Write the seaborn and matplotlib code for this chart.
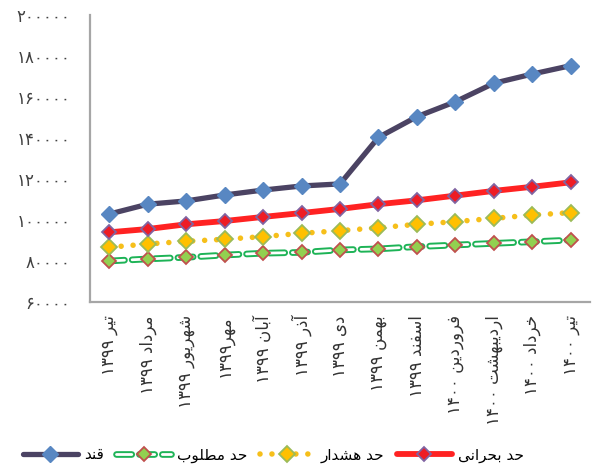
import matplotlib
matplotlib.use("Agg")
import matplotlib.pyplot as plt
import matplotlib.legend_handler
import seaborn as sns
import pandas as pd

# ---------------- data ----------------
months = ["تیر ۱۳۹۹", "مرداد ۱۳۹۹", "شهریور ۱۳۹۹", "مهر۱۳۹۹", "آبان ۱۳۹۹", "آذر ۱۳۹۹",
          "دی ۱۳۹۹", "بهمن ۱۳۹۹", "اسفند ۱۳۹۹", "فروردین ۱۴۰۰", "اردیبهشت ۱۴۰۰",
          "خرداد ۱۴۰۰", "تیر ۱۴۰۰"]
qand = [102900, 107700, 109300, 112200, 114600, 116600, 117600,
        140300, 150400, 157700, 166700, 171200, 175300]
critical = [94000, 95600, 97900, 99500, 101500, 103400, 105400,
            107700, 109600, 111900, 114200, 116200, 118400]
warning = [86700, 88300, 89600, 90600, 91900, 93500, 94800,
           96200, 97900, 99200, 100800, 102400, 103600]
desired = [80000, 81000, 81800, 82900, 83800, 84200, 85400,
           85900, 87000, 87800, 88600, 89400, 90200]
series_labels = ["قند", "حد مطلوب", "حد هشدار", "حد بحرانی"]
yticks = [60000, 80000, 100000, 120000, 140000, 160000, 180000, 200000]

# ---------------- minimal Persian shaping ----------------
FORMS = {  # iso, fin, ini, med
    "ا": ("\uFE8D", "\uFE8E", None, None),
    "آ": ("\uFE81", "\uFE82", None, None),
    "ب": ("\uFE8F", "\uFE90", "\uFE91", "\uFE92"),
    "ت": ("\uFE95", "\uFE96", "\uFE97", "\uFE98"),
    "ح": ("\uFEA1", "\uFEA2", "\uFEA3", "\uFEA4"),
    "خ": ("\uFEA5", "\uFEA6", "\uFEA7", "\uFEA8"),
    "د": ("\uFEA9", "\uFEAA", None, None),
    "ذ": ("\uFEAB", "\uFEAC", None, None),
    "ر": ("\uFEAD", "\uFEAE", None, None),
    "س": ("\uFEB1", "\uFEB2", "\uFEB3", "\uFEB4"),
    "ش": ("\uFEB5", "\uFEB6", "\uFEB7", "\uFEB8"),
    "ط": ("\uFEC1", "\uFEC2", "\uFEC3", "\uFEC4"),
    "ف": ("\uFED1", "\uFED2", "\uFED3", "\uFED4"),
    "ق": ("\uFED5", "\uFED6", "\uFED7", "\uFED8"),
    "ل": ("\uFEDD", "\uFEDE", "\uFEDF", "\uFEE0"),
    "م": ("\uFEE1", "\uFEE2", "\uFEE3", "\uFEE4"),
    "ن": ("\uFEE5", "\uFEE6", "\uFEE7", "\uFEE8"),
    "ه": ("\uFEE9", "\uFEEA", "\uFEEB", "\uFEEC"),
    "و": ("\uFEED", "\uFEEE", None, None),
    "ی": ("\uFEEF", "\uFEF0", "\uFEF3", "\uFEF4"),
}


def shape(word):
    out = []
    n = len(word)
    for i, c in enumerate(word):
        if c not in FORMS:
            out.append(c)
            continue
        iso, fin, ini, med = FORMS[c]
        prev = word[i - 1] if i > 0 else ""
        nxt = word[i + 1] if i < n - 1 else ""
        jp = prev in FORMS and FORMS[prev][2] is not None
        jn = ini is not None and nxt in FORMS
        if jp and jn:
            out.append(med)
        elif jp:
            out.append(fin)
        elif jn:
            out.append(ini)
        else:
            out.append(iso)
    return "".join(out)


def visual(text):
    shaped = shape(text)
    runs, cur, cur_digit = [], "", None
    for ch in shaped:
        d = ch.isdigit()
        if cur and d != cur_digit and not (ch == " " and not cur_digit):
            runs.append((cur, cur_digit))
            cur = ""
        if not cur:
            cur_digit = d
        cur += ch
    if cur:
        runs.append((cur, cur_digit))
    res = []
    for r, isd in reversed(runs):
        res.append(r if isd else r[::-1])
    return "".join(res)


PDIG = str.maketrans("0123456789", "۰۱۲۳۴۵۶۷۸۹")

# ---------------- figure ----------------
plt.rcParams["font.family"] = ["DejaVu Sans"]
plt.rcParams["lines.scale_dashes"] = False

fig = plt.figure(figsize=(5.94, 4.72), dpi=100)
ax = fig.add_axes([90 / 594, 1 - 302 / 472, 500 / 594, 287 / 472])

df = pd.DataFrame({"x": range(len(months)), "qand": qand, "critical": critical,
                   "warning": warning, "desired": desired})

# desired (green hollow dashes)
dash = (0, (11, 5.5))
sns.lineplot(data=df, x="x", y="desired", ax=ax, errorbar=None,
             color="#1db356", linewidth=4.8, zorder=2)
g1 = ax.lines[-1]
g1.set_linestyle(dash)
g1.set_dash_capstyle("round")
sns.lineplot(data=df, x="x", y="desired", ax=ax, errorbar=None,
             color="white", linewidth=2.0, zorder=2.1)
g2 = ax.lines[-1]
g2.set_linestyle(dash)
g2.set_dash_capstyle("round")
sns.lineplot(data=df, x="x", y="desired", ax=ax, errorbar=None,
             color="#92d050", linestyle="none", marker="D", markersize=7.5,
             markerfacecolor="#92d050", markeredgecolor="#c0504d",
             markeredgewidth=1.3, zorder=2.2)
g3 = ax.lines[-1]

# warning (yellow dots)
sns.lineplot(data=df, x="x", y="warning", ax=ax, errorbar=None,
             color="#f6bf1a", linewidth=4.0, marker="D", markersize=8,
             markerfacecolor="#ffc000", markeredgecolor="#9bbb59",
             markeredgewidth=1.3, zorder=3)
y1 = ax.lines[-1]
y1.set_linestyle((0, (0.01, 8.6)))
y1.set_dash_capstyle("round")

# critical (red)
sns.lineplot(data=df, x="x", y="critical", ax=ax, errorbar=None,
             color="#ff2222", linewidth=4.2, marker="D", markersize=7.5,
             markerfacecolor="#ee1c25", markeredgecolor="#8064a2",
             markeredgewidth=1.3, zorder=4)
r1 = ax.lines[-1]
r1.set_solid_capstyle("round")

# qand (dark line, blue diamonds)
sns.lineplot(data=df, x="x", y="qand", ax=ax, errorbar=None,
             color="#4b4363", linewidth=3.8, marker="D", markersize=8,
             markerfacecolor="#5887c2", markeredgecolor="#5887c2",
             markeredgewidth=1, zorder=5)
b1 = ax.lines[-1]
b1.set_solid_capstyle("round")

ax.set_xlim(-0.5, len(months) - 0.5)
ax.set_ylim(yticks[0], yticks[-1])
ax.set_xlabel("")
ax.set_ylabel("")
ax.set_yticks(yticks)
ax.set_yticklabels([str(v).translate(PDIG) for v in yticks],
                   fontsize=12, color="#404040")
ax.set_xticks(range(len(months)))
ax.set_xticklabels([visual(m) for m in months], rotation=90, va="top",
                   ha="center", fontsize=12, color="#333333")
ax.tick_params(axis="y", length=0, pad=14)
ax.tick_params(axis="x", length=0, pad=9.5)
for s in ["top", "right"]:
    ax.spines[s].set_visible(False)
for s in ["left", "bottom"]:
    ax.spines[s].set_color("#a6a6a6")
    ax.spines[s].set_linewidth(1.6)
ax.set_facecolor("white")

handles = [b1, (g1, g2, g3), y1, r1]
fig.legend(handles, [visual(s) for s in series_labels], ncol=4, frameon=False,
           loc="center", bbox_to_anchor=(0.46, 0.036), fontsize=11,
           handlelength=3.6, handletextpad=0.4, columnspacing=0.8,
           handler_map={tuple: matplotlib.legend_handler.HandlerTuple(ndivide=1)})

fig.savefig("out.png", dpi=100, facecolor="white")
